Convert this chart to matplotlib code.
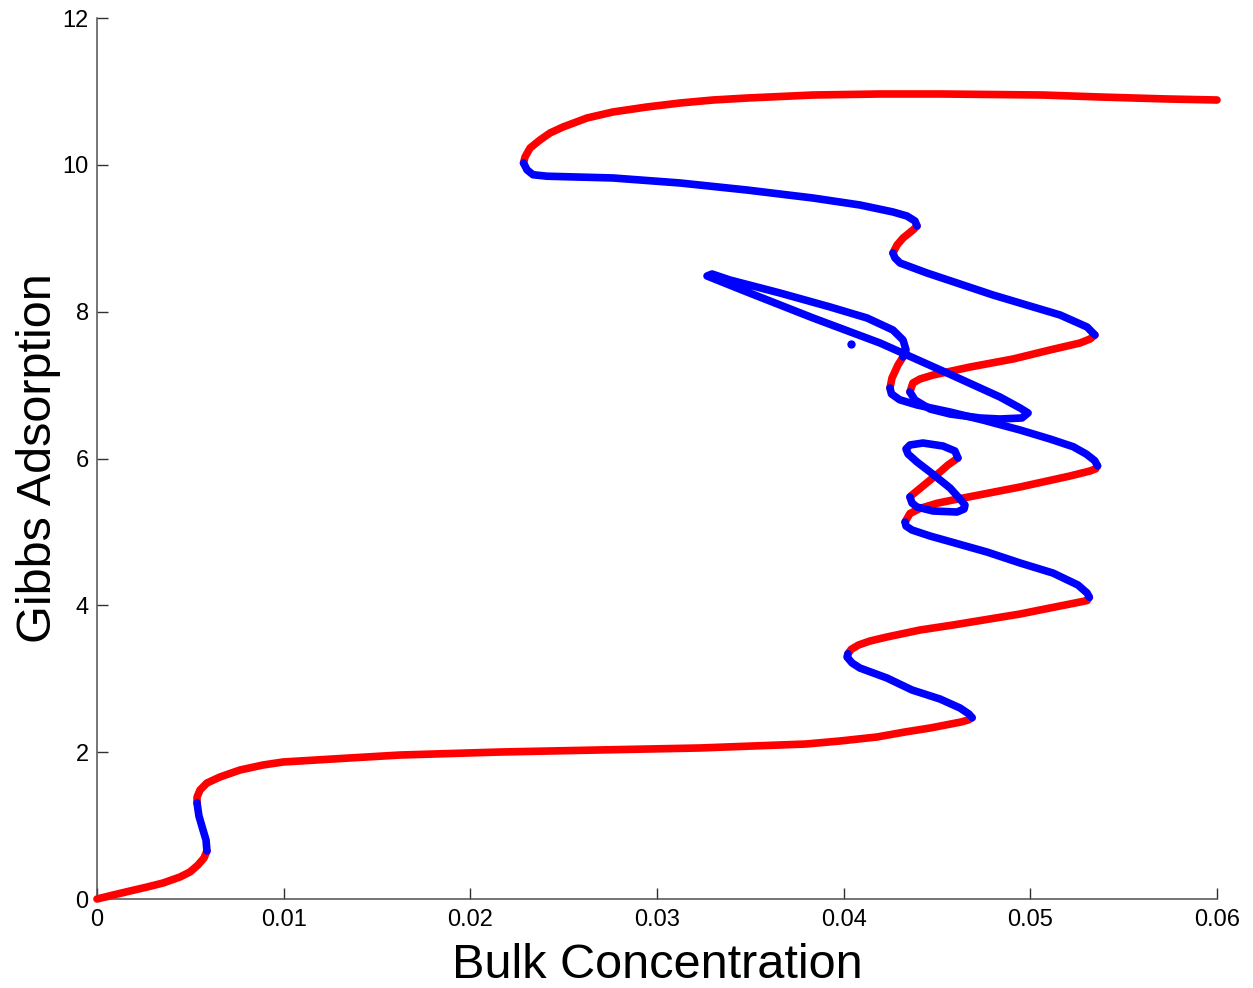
import matplotlib
matplotlib.use('Agg')
import matplotlib.pyplot as plt

plt.rcParams['font.family'] = ['Liberation Sans', 'DejaVu Sans']

# main branch of the adsorption curve
main_x = [0.0, 0.00086, 0.00177, 0.00268, 0.00354, 0.00445, 0.00498,
          0.00541, 0.00573, 0.00589,
          0.00584, 0.00568, 0.00546, 0.00536,
          0.00536, 0.00552, 0.00589, 0.00659, 0.00766, 0.00889, 0.00996,
          0.01355, 0.01623, 0.02159, 0.02695, 0.03230, 0.03798, 0.03980,
          0.04179, 0.04329, 0.04463, 0.04629, 0.04669, 0.04688,
          0.04671, 0.04623, 0.04516, 0.04366, 0.04232, 0.04087, 0.04045,
          0.04018, 0.04023,
          0.04040, 0.04080, 0.04141, 0.04232, 0.04409, 0.04586, 0.04945,
          0.05159, 0.05266, 0.05304, 0.05316,
          0.05304, 0.05255, 0.05121, 0.04945, 0.04768, 0.04596, 0.04463,
          0.04366, 0.04334, 0.04329,
          0.04355, 0.04409, 0.04500, 0.04586, 0.04945, 0.05213, 0.05320,
          0.05350, 0.05360,
          0.05345, 0.05300, 0.05230, 0.05105, 0.04945, 0.04746, 0.04570,
          0.04393, 0.04300, 0.04256, 0.04248,
          0.04259, 0.04291, 0.04318,
          0.04334, 0.04318, 0.04264, 0.04125, 0.03927, 0.03659, 0.03391,
          0.03295, 0.03268, 0.03482, 0.03836, 0.04195, 0.04554, 0.04837,
          0.04945, 0.04988, 0.04955, 0.04837, 0.04730, 0.04570, 0.04463,
          0.04382, 0.04355,
          0.04371, 0.04409, 0.04479, 0.04677, 0.04907, 0.05105, 0.05266,
          0.05320, 0.05346,
          0.05304, 0.05159, 0.04800, 0.04446, 0.04302, 0.04275, 0.04264,
          0.04286, 0.04318, 0.04371, 0.04393,
          0.04382, 0.04339, 0.04264, 0.04087, 0.03836, 0.03482, 0.03123,
          0.02764, 0.02411, 0.02336, 0.02304, 0.02285,
          0.02293, 0.02320, 0.02373, 0.02427, 0.02496, 0.02625, 0.02764,
          0.02946, 0.03123, 0.03300, 0.03482, 0.03836, 0.04195, 0.04516,
          0.05068, 0.05373, 0.05732, 0.06000]
main_y = [0.0, 0.054, 0.109, 0.163, 0.218, 0.300, 0.368,
          0.463, 0.558, 0.654,
          0.804, 0.940, 1.131, 1.308,
          1.389, 1.485, 1.580, 1.662, 1.757, 1.825, 1.866,
          1.921, 1.961, 2.002, 2.030, 2.057, 2.111, 2.152,
          2.207, 2.275, 2.329, 2.411, 2.440, 2.470,
          2.520, 2.602, 2.724, 2.847, 3.010, 3.146, 3.215,
          3.296, 3.340,
          3.400, 3.460, 3.514, 3.569, 3.664, 3.732, 3.882,
          3.991, 4.045, 4.065, 4.110,
          4.168, 4.277, 4.440, 4.577, 4.726, 4.849, 4.944,
          5.026, 5.080, 5.135,
          5.250, 5.320, 5.390, 5.435, 5.612, 5.762, 5.830,
          5.860, 5.900,
          5.970, 6.060, 6.160, 6.266, 6.388, 6.524, 6.633,
          6.729, 6.800, 6.880, 6.960,
          7.097, 7.274, 7.383,
          7.478, 7.614, 7.750, 7.914, 8.064, 8.254, 8.431,
          8.513, 8.486, 8.268, 7.914, 7.573, 7.165, 6.838,
          6.688, 6.620, 6.552, 6.538, 6.552, 6.606, 6.674,
          6.797, 6.906,
          7.029, 7.083, 7.137, 7.246, 7.355, 7.478, 7.573,
          7.628, 7.682,
          7.791, 7.955, 8.227, 8.527, 8.663, 8.731, 8.799,
          8.908, 9.003, 9.112, 9.167,
          9.235, 9.303, 9.358, 9.453, 9.548, 9.657, 9.753,
          9.821, 9.845, 9.865, 9.930, 10.025,
          10.107, 10.229, 10.338, 10.434, 10.515, 10.638, 10.720,
          10.788, 10.842, 10.883, 10.910, 10.951, 10.965, 10.965,
          10.951, 10.924, 10.897, 10.883]
# indices where stability changes (branch starts stable = red)
main_switch = [9, 13, 33, 42, 53, 63, 72, 83, 86, 109, 118, 125, 129, 141]

# closed figure-eight isola
isola_x = [0.04612, 0.04559, 0.04516, 0.04425, 0.04366, 0.04355,
           0.04366, 0.04393, 0.04479, 0.04607, 0.04645, 0.04650, 0.04623,
           0.04570, 0.04463, 0.04393, 0.04345, 0.04334, 0.04355, 0.04425,
           0.04532, 0.04596, 0.04612]
isola_y = [6.007, 5.912, 5.816, 5.626, 5.503, 5.476,
           5.394, 5.339, 5.285, 5.271, 5.312, 5.367, 5.448,
           5.598, 5.816, 5.952, 6.061, 6.130, 6.184, 6.211,
           6.170, 6.102, 6.007]
isola_switch = [5]

# isolated point
dot_x = [0.04039]
dot_y = [7.56]

stable_col = (1, 0, 0)
unstable_col = (0, 0, 1)


def plot_branch(ax, xs, ys, switches):
    '''
    '''
    bounds = [0] + switches + [len(xs) - 1]
    for k in range(len(bounds) - 1):
        a, b = bounds[k], bounds[k + 1]
        stable = (k % 2 == 0)
        ax.plot(xs[a:b + 1], ys[a:b + 1],
                color=stable_col if stable else unstable_col,
                linewidth=5.5,
                solid_capstyle='round',
                solid_joinstyle='round',
                zorder=3 if stable else 4,
                clip_on=False)


fig = plt.figure(figsize=(12.53, 9.88), dpi=100)
ax = fig.add_axes([97 / 1253, 1 - 899 / 988, 1120 / 1253, 881 / 988])

plot_branch(ax, main_x, main_y, main_switch)
plot_branch(ax, isola_x, isola_y, isola_switch)
ax.plot(dot_x, dot_y, 'o', color=unstable_col, markersize=6,
        markeredgewidth=0, zorder=4)

ax.set_xlim(0, 0.06)
ax.set_ylim(0, 12)
ax.set_xticks([0, 0.01, 0.02, 0.03, 0.04, 0.05, 0.06])
ax.set_xticklabels(['0', '0.01', '0.02', '0.03', '0.04', '0.05', '0.06'])
ax.set_yticks([0, 2, 4, 6, 8, 10, 12])

for side in ['top', 'right']:
    ax.spines[side].set_visible(False)
for side in ['left', 'bottom']:
    ax.spines[side].set_color('#505050')
    ax.spines[side].set_linewidth(1.1)

ax.tick_params(direction='in', length=8, width=1.0, color='#303030',
               labelsize=17, labelcolor='black')
ax.tick_params(axis='x', pad=7)
ax.tick_params(axis='y', pad=6)

ax.set_xlabel('Bulk Concentration', fontsize=35, labelpad=9)
ax.set_ylabel('Gibbs Adsorption', fontsize=35, labelpad=1)

plt.savefig('out.png', dpi=100)
plt.close()
